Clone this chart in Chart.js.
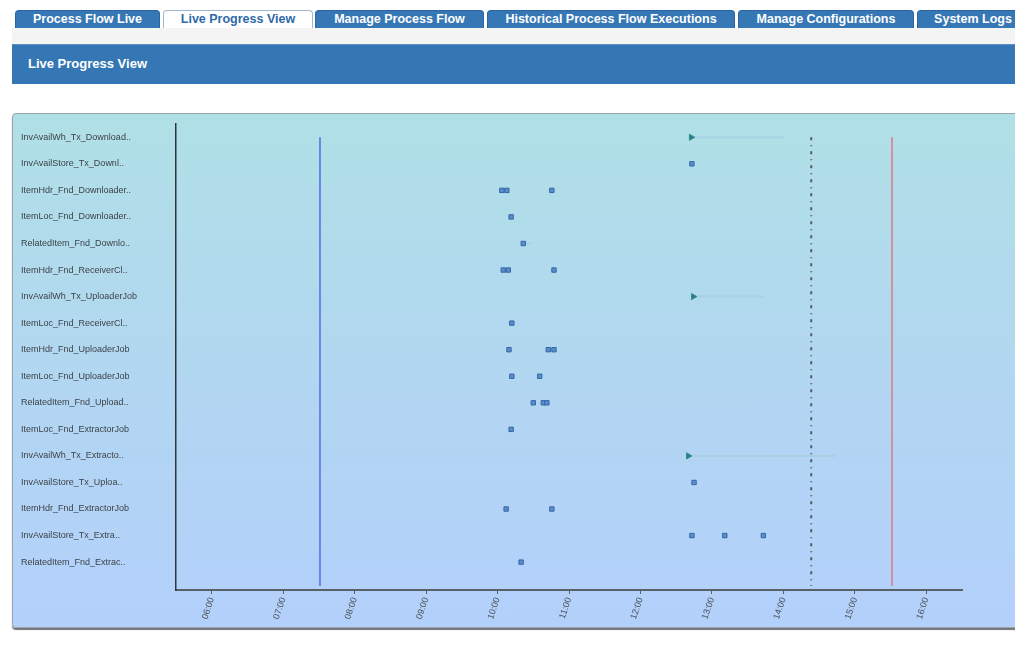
<!DOCTYPE html>
<html>
<head>
<meta charset="utf-8">
<title>Live Progress View</title>
<script src="https://cdn.jsdelivr.net/npm/chart.js@4.4.0/dist/chart.umd.min.js"></script>
<style>
  body { margin: 0; width: 1015px; height: 650px; overflow: hidden; background: #fff;
         font-family: "Liberation Sans", Arial, sans-serif; position: relative; }
  .tab { position: absolute; top: 10px; height: 17px; line-height: 17px; background: #3677b6;
         color: #fff; font-weight: bold; font-size: 12.5px; text-align: center;
         border: 1px solid #2d64a0; border-bottom: none; border-radius: 4px 4px 0 0; white-space: nowrap; }
  .tab.active { background: #fff; color: #2f6aa8; border-color: #9fb6cf; height: 18px; }
  .strip { position: absolute; left: 12px; right: 0; top: 28px; height: 16px; background: #f4f4f4; }
  .header { position: absolute; left: 12px; right: 0; top: 44px; height: 40px; background: #3577b5;
            border-top: 1px solid #5c8fc4; color: #fff; font-weight: bold; font-size: 13px;
            line-height: 37px; padding-left: 16px; box-sizing: border-box; }
  .panel { position: absolute; left: 12px; top: 113px; width: 1012px; height: 515px; box-sizing: border-box;
           border: 1px solid #9aa5ad; border-radius: 4px;
           background: linear-gradient(to bottom, #b0e0e6 0%, #b2d6f2 55%, #b3d0fb 100%);
           box-shadow: 0 2px 1px #6f7478; }
  #wrap { position: absolute; left: 13px; top: 114px; width: 1000px; height: 514px; }
</style>
</head>
<body>
<div class="tab" style="left:15px;width:143px;">Process Flow Live</div>
<div class="tab active" style="left:163px;width:148px;">Live Progress View</div>
<div class="tab" style="left:315px;width:167px;">Manage Process Flow</div>
<div class="tab" style="left:487px;width:246px;">Historical Process Flow Executions</div>
<div class="tab" style="left:738px;width:174px;">Manage Configurations</div>
<div class="tab" style="left:917px;width:110px;">System Logs</div>
<div class="strip"></div>
<div class="header">Live Progress View</div>
<div class="panel"></div>
<div id="wrap"><canvas id="progressChart"></canvas></div>

<script>
// job names (rows, top to bottom)
const jobLabels = [
  "InvAvailWh_Tx_Download..",
  "InvAvailStore_Tx_Downl..",
  "ItemHdr_Fnd_Downloader..",
  "ItemLoc_Fnd_Downloader..",
  "RelatedItem_Fnd_Downlo..",
  "ItemHdr_Fnd_ReceiverCl..",
  "InvAvailWh_Tx_UploaderJob",
  "ItemLoc_Fnd_ReceiverCl..",
  "ItemHdr_Fnd_UploaderJob",
  "ItemLoc_Fnd_UploaderJob",
  "RelatedItem_Fnd_Upload..",
  "ItemLoc_Fnd_ExtractorJob",
  "InvAvailWh_Tx_Extracto..",
  "InvAvailStore_Tx_Uploa..",
  "ItemHdr_Fnd_ExtractorJob",
  "InvAvailStore_Tx_Extra..",
  "RelatedItem_Fnd_Extrac.."
];

// completed run times per row, in hours of the day
const runTimes = [
  [],
  [12.72],
  [10.06, 10.13, 10.76],
  [10.19],
  [10.36],
  [10.08, 10.15, 10.79],
  [],
  [10.20],
  [10.16, 10.71, 10.79],
  [10.20, 10.59],
  [10.50, 10.64, 10.69],
  [10.19],
  [],
  [12.75],
  [10.12, 10.76],
  [12.72, 13.18, 13.72],
  [10.33]
];

// running jobs: row, start time, expected end
const runningRows   = [0, 6, 12];
const runningStarts = [12.71, 12.74, 12.67];
const runningEnds   = [14.00, 13.72, 14.74];

// short tails after a finished run
const tailRows   = [4];
const tailStarts = [10.36];
const tailEnds   = [10.48];

// x axis
const hourTicks  = [6, 7, 8, 9, 10, 11, 12, 13, 14, 15, 16];
const hourLabels = ["06:00", "07:00", "08:00", "09:00", "10:00", "11:00",
                    "12:00", "13:00", "14:00", "15:00", "16:00"];
const viewStart = 5.5;
const viewEnd = 16.5;

// marker lines
const windowStart = 7.515;
const currentTime = 14.39;
const windowEnd = 15.52;
const lineTop = 0;
const lineBottom = 16.9;

const runPoints = [];
runTimes.forEach((times, row) => times.forEach(t => runPoints.push({ x: t, y: row })));

const startPoints = runningRows.map((row, i) => ({ x: runningStarts[i], y: row }));

const rangeSets = runningRows.map((row, i) => ({
  type: "line",
  data: [{ x: runningStarts[i], y: row }, { x: runningEnds[i], y: row }],
  borderColor: "rgba(165,208,224,0.9)",
  borderWidth: 2,
  pointRadius: 0,
  order: 5
}));
const tailSets = tailRows.map((row, i) => ({
  type: "line",
  data: [{ x: tailStarts[i], y: row }, { x: tailEnds[i], y: row }],
  borderColor: "rgba(165,208,224,0.9)",
  borderWidth: 2,
  pointRadius: 0,
  order: 5
}));

function vLine(t, color, width, dash) {
  return {
    type: "line",
    data: [{ x: t, y: lineTop }, { x: t, y: lineBottom }],
    borderColor: color,
    borderWidth: width,
    borderDash: dash || [],
    pointRadius: 0,
    order: 8
  };
}

new Chart(document.getElementById("progressChart"), {
  type: "scatter",
  data: {
    datasets: [
      {
        data: runPoints,
        pointStyle: "rect",
        pointRadius: 3.1,
        backgroundColor: "#5b8dc9",
        borderColor: "#3566a8",
        borderWidth: 1,
        order: 1
      },
      {
        data: startPoints,
        pointStyle: "triangle",
        rotation: 90,
        pointRadius: 3.6,
        backgroundColor: "#356fa8",
        borderColor: "#2f9a72",
        borderWidth: 1,
        order: 0
      },
      ...rangeSets,
      ...tailSets,
      vLine(windowStart, "#4e6fe6", 1.5),
      vLine(currentTime, "#555b60", 2, [3, 5, 1, 5]),
      vLine(windowEnd, "#e07888", 1.5)
    ]
  },
  options: {
    responsive: true,
    maintainAspectRatio: false,
    animation: false,
    layout: { padding: { left: 8, right: 51, top: 10, bottom: 8 } },
    scales: {
      x: {
        type: "linear",
        min: viewStart,
        max: viewEnd,
        afterBuildTicks: s => { s.ticks = hourTicks.map(v => ({ value: v })); },
        afterFit: s => { s.height = 30; },
        ticks: {
          autoSkip: false,
          minRotation: 72,
          maxRotation: 72,
          padding: 2,
          color: "#4a4f55",
          font: { size: 9, family: "'Liberation Sans', Arial, sans-serif" },
          callback: (v, i) => hourLabels[i]
        },
        grid: { drawOnChartArea: false, drawTicks: true, tickLength: 4, color: "#5a6068" },
        border: { color: "#5a6068", width: 2 }
      },
      y: {
        type: "linear",
        reverse: true,
        min: -0.5,
        max: 17.05,
        afterBuildTicks: s => { s.ticks = jobLabels.map((_, i) => ({ value: i })); },
        afterFit: s => { s.width = 155; },
        ticks: {
          autoSkip: false,
          crossAlign: "far",
          color: "#3c4248",
          font: { size: 9, family: "'Liberation Sans', Arial, sans-serif" },
          callback: (v, i) => jobLabels[i]
        },
        grid: { display: false },
        border: { display: true, color: "#30353a", width: 1.5 }
      }
    },
    plugins: {
      legend: { display: false },
      tooltip: { enabled: false }
    }
  }
});
</script>
</body>
</html>
